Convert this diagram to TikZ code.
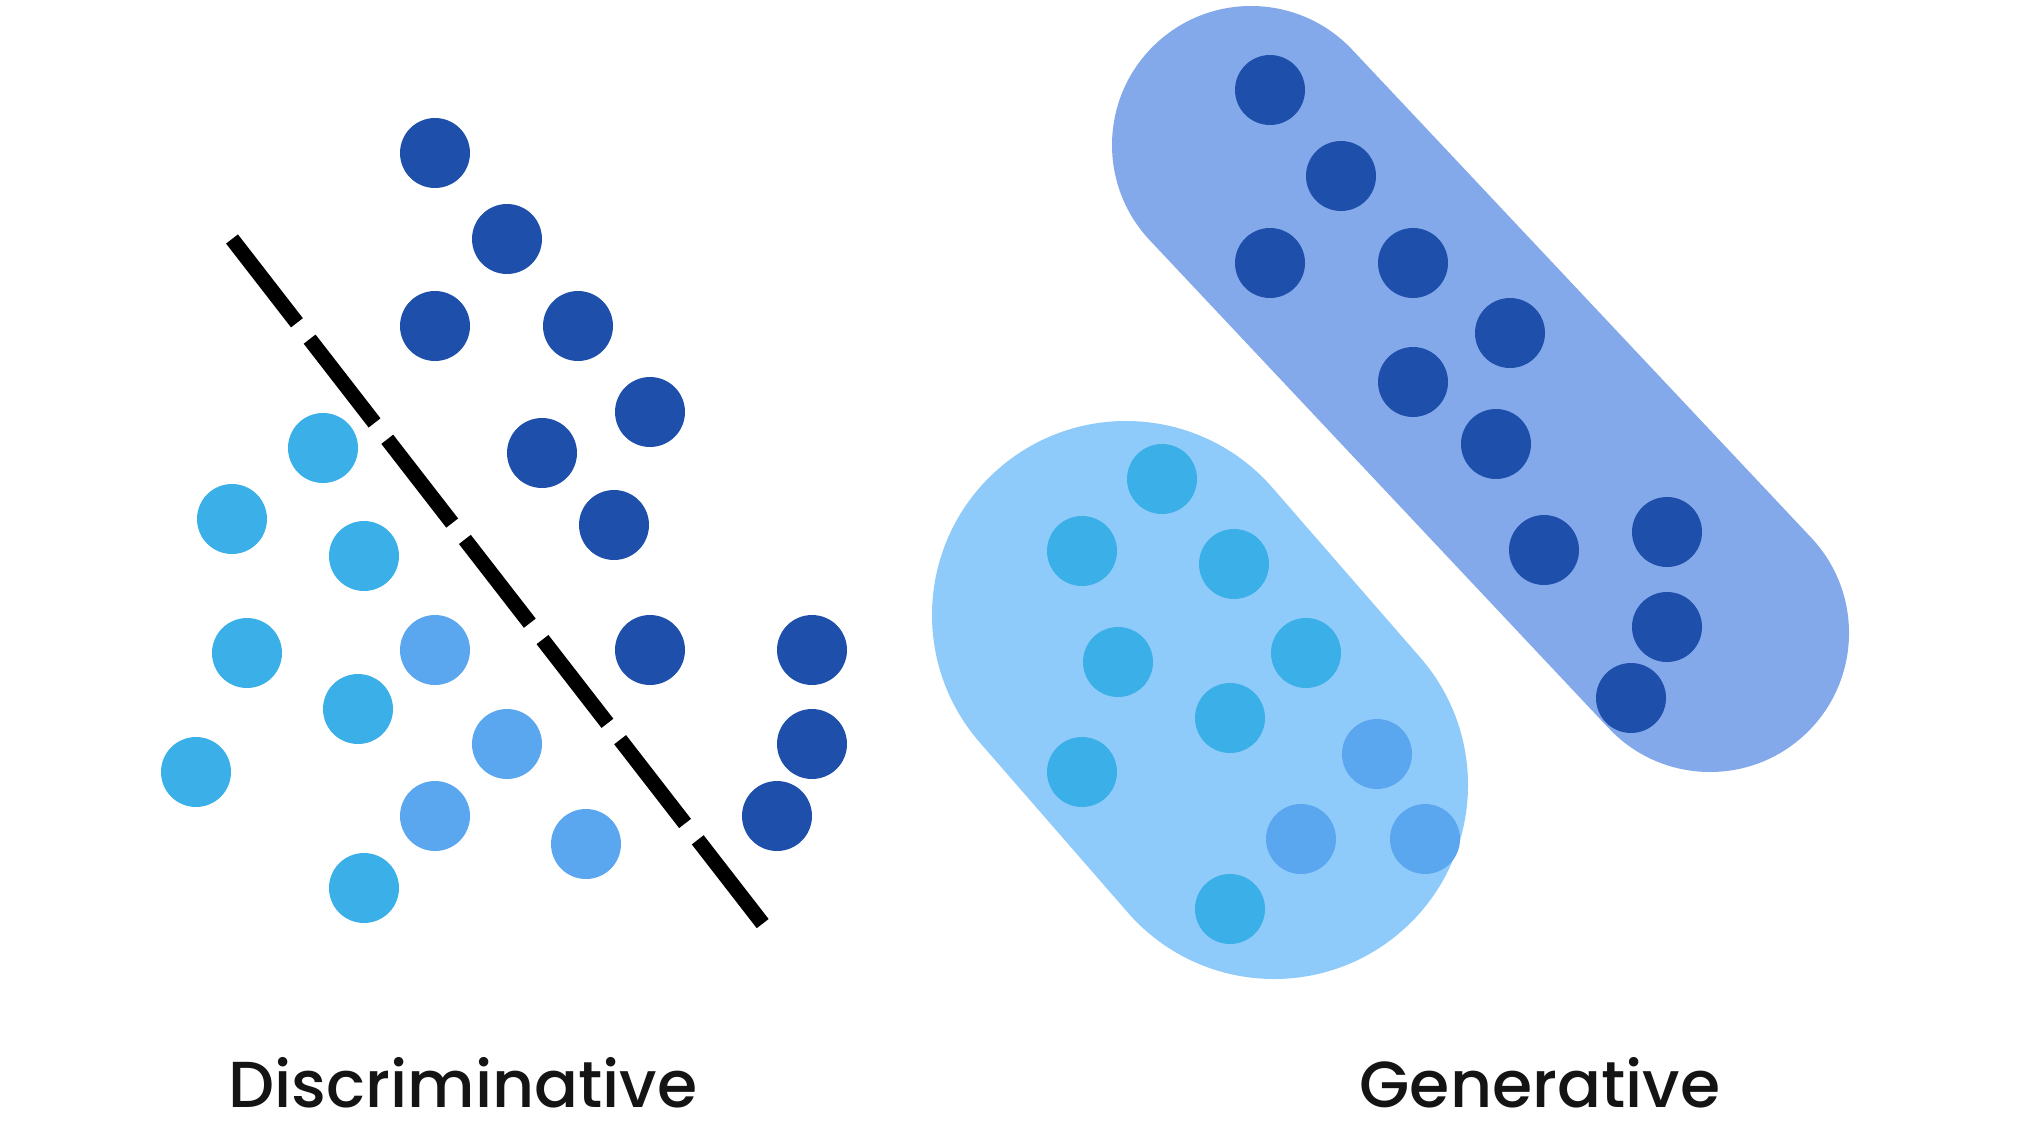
\documentclass[tikz,border=0pt]{standalone}
\usepackage{fontspec}
\setmainfont{Poppins Medium}
\definecolor{dotdark}{HTML}{1E4FAB}
\definecolor{dotcyan}{HTML}{3BAFE8}
\definecolor{dotmed}{HTML}{5AA7F0}
\definecolor{pilldark}{HTML}{84A9EA}
\definecolor{pilllight}{HTML}{8FCBFA}
\begin{document}
\begin{tikzpicture}[x=1pt,y=-1pt,
  dot/.style={circle,inner sep=0pt,minimum size=70pt,draw=none},
  dk/.style={dot,fill=dotdark},
  cy/.style={dot,fill=dotcyan},
  md/.style={dot,fill=dotmed},
  pill/.style={line cap=round},
  sep/.style={line width=15pt,black,dash pattern=on 106pt off 20.7pt},
  lbl/.style={anchor=base,inner sep=0pt,font=\fontsize{65}{70}\selectfont,text=black!92}]
\useasboundingbox[fill=white] (0,0) rectangle (2018,1124);
% separating line
\coordinate (s1) at (232,239);
\coordinate (s2) at (763,924);
\draw[sep] (s1) -- (s2);
% left dots
\node[dk] (l1) at (435,153) {};
\node[dk] (l2) at (507,239) {};
\node[dk] (l3) at (435,326) {};
\node[dk] (l4) at (578,326) {};
\node[dk] (l5) at (650,412) {};
\node[dk] (l6) at (542,453) {};
\node[dk] (l7) at (614,525) {};
\node[dk] (l8) at (650,650) {};
\node[dk] (l9) at (812,650) {};
\node[dk] (l10) at (812,744) {};
\node[dk] (l11) at (777,816) {};
\node[cy] (c1) at (323,448) {};
\node[cy] (c2) at (232,519) {};
\node[cy] (c3) at (364,556) {};
\node[cy] (c4) at (247,653) {};
\node[cy] (c5) at (358,709) {};
\node[cy] (c6) at (196,772) {};
\node[cy] (c7) at (364,888) {};
\node[md] (m1) at (435,650) {};
\node[md] (m2) at (507,744) {};
\node[md] (m3) at (435,816) {};
\node[md] (m4) at (586,844) {};
% pills
\coordinate (pa1) at (1251,145);
\coordinate (pa2) at (1710,633);
\draw[pill,line width=278pt,pilldark] (pa1) -- (pa2);
\coordinate (pb1) at (1126,615);
\coordinate (pb2) at (1274,785);
\draw[pill,line width=388pt,pilllight] (pb1) -- (pb2);
% right dots
\node[dk] (r1) at (1270,90) {};
\node[dk] (r2) at (1341,176) {};
\node[dk] (r3) at (1270,263) {};
\node[dk] (r4) at (1413,263) {};
\node[dk] (r5) at (1510,333) {};
\node[dk] (r6) at (1413,382) {};
\node[dk] (r7) at (1496,444) {};
\node[dk] (r8) at (1544,550) {};
\node[dk] (r9) at (1667,532) {};
\node[dk] (r10) at (1667,627) {};
\node[dk] (r11) at (1631,698) {};
\node[cy] (rc1) at (1162,479) {};
\node[cy] (rc2) at (1082,551) {};
\node[cy] (rc3) at (1234,564) {};
\node[cy] (rc4) at (1118,662) {};
\node[cy] (rc5) at (1306,653) {};
\node[cy] (rc6) at (1230,718) {};
\node[cy] (rc7) at (1082,772) {};
\node[cy] (rc8) at (1230,909) {};
\node[md] (rm1) at (1377,754) {};
\node[md] (rm2) at (1301,839) {};
\node[md] (rm3) at (1425,839) {};
% labels
\node[lbl] (t1) at (463,1107) {Discriminative};
\node[lbl] (t2) at (1540,1107) {Generative};
\end{tikzpicture}
\end{document}
